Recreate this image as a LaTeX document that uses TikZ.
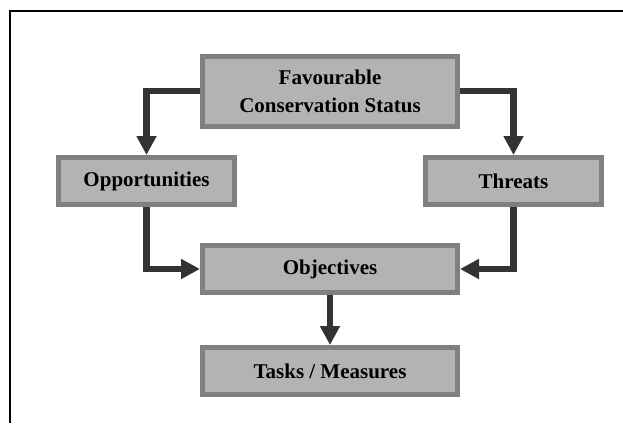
\documentclass[tikz,border=0pt]{standalone}
\usepackage{fontspec}
\setmainfont{Liberation Serif}
\usetikzlibrary{arrows.meta}
\definecolor{boxfill}{HTML}{B3B3B3}
\definecolor{boxline}{HTML}{808080}
\definecolor{arrowc}{HTML}{333333}
\begin{document}
\begin{tikzpicture}[x=1pt,y=-1pt,
  box/.style={draw=boxline,fill=boxfill,line width=5pt,align=center,inner sep=0pt,
    font=\bfseries\fontsize{21}{28}\selectfont},
  conn/.style={draw=arrowc,line width=6.5pt,-{Triangle[width=19pt,length=19pt]}}]
\useasboundingbox (0,0) rectangle (623,423);
\draw[line width=2pt] (10,423) -- (10,11) -- (623,11);
\node[box,minimum width=255pt,minimum height=70pt] (fcs) at (330,91) {Favourable\\Conservation Status};
\node[box,minimum width=176pt,minimum height=47pt] (opp) at (146.5,181) {Opportunities};
\node[box,minimum width=176pt,minimum height=47pt] (thr) at (513.5,181) {Threats};
\node[box,minimum width=255pt,minimum height=47pt] (obj) at (330,269) {Objectives};
\node[box,minimum width=255pt,minimum height=47pt] (tsk) at (330,371) {Tasks / Measures};
\draw[conn] (fcs.west) -| (opp.north);
\draw[conn] (fcs.east) -| (thr.north);
\draw[conn] (opp.south) |- (obj.west);
\draw[conn] (thr.south) |- (obj.east);
\draw[conn] (obj.south) -- (tsk.north);
\end{tikzpicture}
\end{document}
